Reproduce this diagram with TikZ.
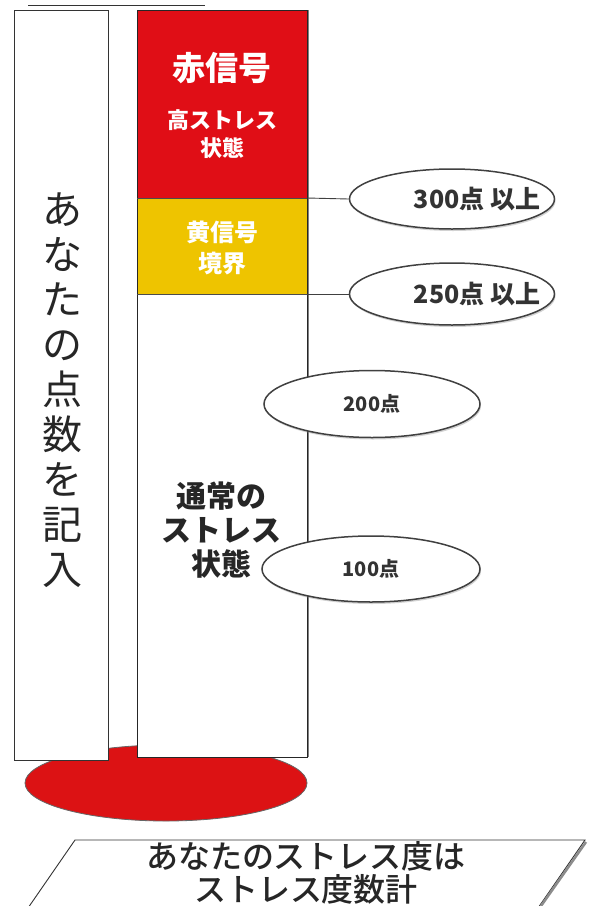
\documentclass[tikz,border=0pt]{standalone}
\usepackage{fontspec}
\newfontfamily\jp{Noto Sans CJK JP}
\newfontfamily\jpm{Noto Sans CJK JP}[UprightFont={* Medium}]
\usetikzlibrary{shapes.geometric,shadows}
\definecolor{sigred}{RGB}{224,14,22}
\definecolor{sigyellow}{RGB}{238,196,0}
\definecolor{basered}{RGB}{220,18,20}
\tikzset{
  band/.style={minimum width=170pt, minimum height=#1, anchor=north west, inner sep=0pt, outer sep=0pt},
  scorebubble/.style={ellipse, draw=black!75, line width=1.5pt, fill=white, inner sep=0pt, text=black!80,
     drop shadow={shadow xshift=1pt, shadow yshift=-2pt, opacity=0.35}},
  scoretext/.style={text=black!80, inner sep=0pt},
  whitelabel/.style={text=white, font=\jp\bfseries, align=center, inner sep=0pt},
  blacklabel/.style={text=black!85, font=\jp\bfseries, align=center, inner sep=0pt},
  tie/.style={draw=black!75, line width=0.9pt}
}
\begin{document}
\begin{tikzpicture}[x=1pt,y=-1pt]
\useasboundingbox (0,0) rectangle (597,906);
\fill[white] (0,0) rectangle (597,906);
% partial heading underline at the top edge
\draw[black!80, line width=1pt] (28,5) -- (205,5);

% red base ellipse
\node[ellipse, fill=basered, draw=black!60, line width=0.8pt, minimum width=282pt, minimum height=76pt, inner sep=0pt] (base) at (166,783) {};

% left note box
\node[draw=black!80, fill=white, line width=0.8pt, minimum width=94pt, minimum height=750pt, anchor=north west, inner sep=0pt] (note) at (14,10) {};
\node[font=\jp\fontsize{40}{45}\selectfont, text=black!85, align=center, inner sep=0pt] (notetext) at (62,390)
  {あ\\な\\た\\の\\点\\数\\を\\記\\入};

% the column
\node[band=188pt, fill=sigred] (red) at (137,10) {};
\node[band=96pt, fill=sigyellow] (yellow) at (137,198) {};
\node[band=463pt, fill=white] (normal) at (137,294) {};
\draw[black!50, line width=2.5pt] ([xshift=1pt]red.north east) -- ([xshift=1pt]normal.south east);
\draw[black!85, line width=1pt] (red.north west) rectangle (normal.south east);
\draw[black!70, line width=0.8pt] (red.south west) -- (red.south east);
\draw[black!70, line width=0.8pt] (yellow.south west) -- (yellow.south east);

% column labels
\node[whitelabel, font=\jp\bfseries\fontsize{33}{34}\selectfont] (redtitle) at (222,68) {赤信号};
\node[whitelabel, font=\jp\bfseries\fontsize{22}{28}\selectfont] (redsub) at (222,134) {高ストレス\\状態};
\node[whitelabel, font=\jp\bfseries\fontsize{24}{31}\selectfont] (yellowtxt) at (222,248) {黄信号\\境界};
\node[blacklabel, font=\jp\bfseries\fontsize{30}{34}\selectfont] (normaltxt) at (221,530) {通常の\\ストレス\\状態};

% score bubbles
\node[scorebubble, minimum width=205pt, minimum height=60pt] (e300) at (452,199) {};
\node[scoretext, font=\jp\bfseries\fontsize{25}{26}\selectfont] (t300) at (477,199) {300点 以上};
\node[scorebubble, minimum width=205pt, minimum height=62pt] (e250) at (452,294) {};
\node[scoretext, font=\jp\bfseries\fontsize{25}{26}\selectfont] (t250) at (477,294) {250点 以上};
\node[scorebubble, minimum width=216pt, minimum height=67pt, font=\jp\bfseries\fontsize{20}{22}\selectfont] (e200) at (372,404) {200点};
\node[scorebubble, minimum width=218pt, minimum height=66pt, font=\jp\bfseries\fontsize{20}{22}\selectfont] (e100) at (371,569) {100点};

\draw[tie] (red.south east) -- (e300.west);
\draw[tie] (yellow.south east) -- (e250.west);

% bottom parallelogram
\draw[black!80, line width=0.9pt, fill=white] (75,840) -- (585,840) -- (538,908) -- (28,908) -- cycle;
\draw[black!45, line width=2.5pt] (586,842) -- (541,906);
\node[font=\jpm\fontsize{32}{33}\selectfont, text=black!85, align=center, inner sep=0pt] (gauge) at (306,873)
  {あなたのストレス度は\\ストレス度数計};
\end{tikzpicture}
\end{document}
